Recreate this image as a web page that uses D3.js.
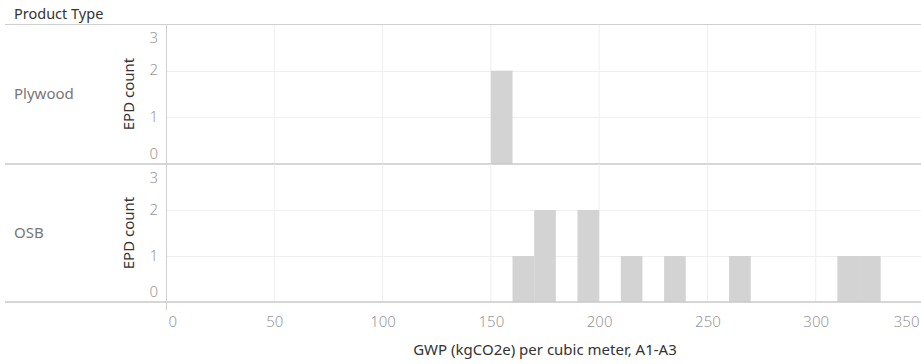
<!DOCTYPE html>
<html>
<head>
<meta charset="utf-8">
<script src="https://cdn.jsdelivr.net/npm/d3@7"></script>
<style>
  html, body { margin: 0; padding: 0; background: #fff; }
  svg { display: block; font-family: "Noto Sans", "Open Sans", sans-serif; }
</style>
</head>
<body>
<svg id="chart" width="921" height="364"></svg>
<script>
// ---- Data ----
const categories = ["Plywood", "OSB"];
const binStarts = [150, 160, 170, 180, 190, 200, 210, 220, 230, 240, 250, 260, 270, 280, 290, 300, 310, 320];
const binWidth = 10;
const plywoodCounts = [2, 0, 0, 0, 0, 0, 0, 0, 0, 0, 0, 0, 0, 0, 0, 0, 0, 0];
const osbCounts     = [0, 1, 2, 0, 2, 0, 1, 0, 1, 0, 0, 1, 0, 0, 0, 0, 1, 1];
const xTicks = [0, 50, 100, 150, 200, 250, 300, 350];
const yTicks = [0, 1, 2, 3];
const xTitle = "GWP (kgCO2e) per cubic meter, A1-A3";
const yTitle = "EPD count";
const headerTitle = "Product Type";

const seriesByCategory = { "Plywood": plywoodCounts, "OSB": osbCounts };

// ---- Layout ----
const W = 921, H = 364;
const plotLeft = 166, plotRight = 921;
const panelTops = [24, 164];
const panelBottoms = [164, 302];
const FS = 15;

const svg = d3.select("#chart");

const x = d3.scaleLinear().domain([0, 350]).range([166, 924]);

svg.append("defs").append("clipPath").attr("id", "plotclip")
  .append("rect").attr("x", plotLeft).attr("y", 0).attr("width", plotRight - plotLeft).attr("height", H);

// header
svg.append("text").attr("x", 14).attr("y", 19)
  .attr("font-size", FS - 0.5).attr("fill", "#333").text(headerTitle);

categories.forEach((cat, i) => {
  const top = panelTops[i], bottom = panelBottoms[i];
  const y = d3.scaleLinear().domain([0, 3]).range([bottom, top]);
  const g = svg.append("g");
  const plot = g.append("g").attr("clip-path", "url(#plotclip)");

  plot.selectAll(".vgrid").data(xTicks.filter(t => t > 0)).enter().append("line")
    .attr("x1", d => x(d)).attr("x2", d => x(d))
    .attr("y1", top).attr("y2", bottom)
    .attr("stroke", "#efefef").attr("stroke-width", 1);
  plot.selectAll(".hgrid").data(yTicks.filter(t => t > 0 && t < 3)).enter().append("line")
    .attr("x1", plotLeft).attr("x2", plotRight)
    .attr("y1", d => Math.round(y(d)) + 0.5).attr("y2", d => Math.round(y(d)) + 0.5)
    .attr("stroke", "#efefef").attr("stroke-width", 1);

  const counts = seriesByCategory[cat];
  const bars = binStarts.map((b, k) => ({ start: b, count: counts[k] })).filter(d => d.count > 0);
  plot.selectAll(".bar").data(bars).enter().append("rect")
    .attr("x", d => x(d.start))
    .attr("width", d => x(d.start + binWidth) - x(d.start))
    .attr("y", d => y(d.count))
    .attr("height", d => y(0) - y(d.count))
    .attr("fill", "#d3d3d3");

  const yAxis = d3.axisLeft(y).tickValues(yTicks).tickFormat(d3.format("d")).tickSize(0).tickPadding(0);
  const ya = g.append("g").attr("transform", `translate(158,0)`).call(yAxis);
  ya.select(".domain").remove();
  ya.selectAll(".tick").attr("transform", d => {
    const yy = Math.min(Math.max(y(d), top + 14), bottom - 10);
    return `translate(0,${yy})`;
  });
  ya.selectAll("text").attr("font-size", FS).attr("fill", "#999")
    .attr("font-family", "'Noto Sans', sans-serif").attr("font-weight", 300);

  g.append("text")
    .attr("transform", `translate(134,${(top + bottom) / 2}) rotate(-90)`)
    .attr("text-anchor", "middle").attr("font-size", FS).attr("fill", "#333")
    .text(yTitle);

  g.append("text").attr("x", 14).attr("y", (top + bottom) / 2 + 5)
    .attr("font-size", FS).attr("fill", "#777").text(cat);

  svg.append("line").attr("x1", 5).attr("x2", W)
    .attr("y1", bottom).attr("y2", bottom)
    .attr("stroke", "#c8c8c8").attr("stroke-width", 1.5);
});

svg.append("line").attr("x1", 5).attr("x2", W).attr("y1", 24.5).attr("y2", 24.5)
  .attr("stroke", "#d0d0d0").attr("stroke-width", 1);

svg.append("line").attr("x1", 166.5).attr("x2", 166.5).attr("y1", 24).attr("y2", 310)
  .attr("stroke", "#d0d0d0").attr("stroke-width", 1);

const xAxis = d3.axisBottom(x).tickValues(xTicks).tickSize(0).tickPadding(0);
const xa = svg.append("g").attr("transform", "translate(0,316)").call(xAxis);
xa.select(".domain").remove();
xa.selectAll("text").attr("font-size", FS).attr("fill", "#999").attr("font-weight", 300)
  .attr("font-family", "'Noto Sans', sans-serif")
  .attr("text-anchor", d => d === 0 ? "start" : (d === 350 ? "end" : "middle"))
  .attr("dx", d => d === 0 ? 2 : (d === 350 ? -5 : 0));

svg.append("text").attr("x", 545).attr("y", 355)
  .attr("text-anchor", "middle").attr("font-size", FS).attr("fill", "#333")
  .text(xTitle);
</script>
</body>
</html>
